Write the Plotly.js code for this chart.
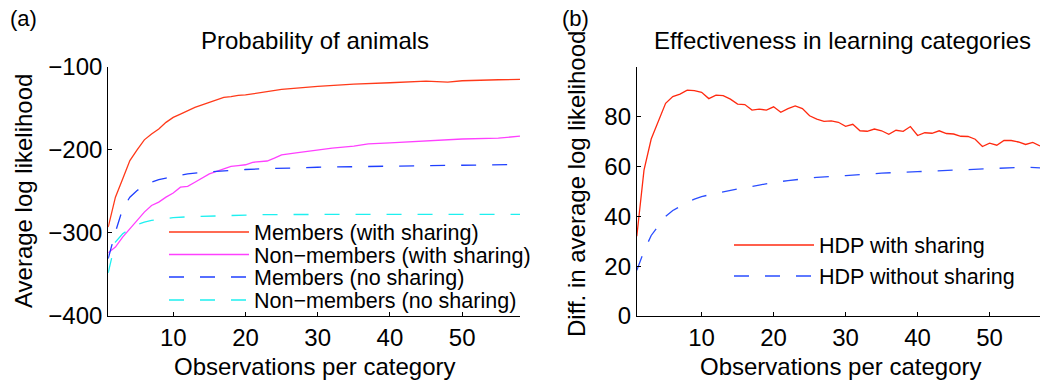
<!DOCTYPE html>
<html>
<head>
<meta charset="utf-8">
<script src="https://cdn.plot.ly/plotly-3.0.1.min.js"></script>
<style>html,body{margin:0;padding:0;background:#fff;}#chart{width:1040px;height:381px;}</style>
</head>
<body>
<div id="chart"></div>
<script>
// ---- Panel (a): Probability of animals ----
const redX = [1,2,3,4,5,6,7,8,9,10,11,12,13,14,15,16,17,18,19,20,21,22,25,30,35,40,45,48,50,55,58];
const redY = [-293,-257,-235,-213,-200,-188,-181,-175,-167,-161,-157,-153,-149,-146,-143,-140,-137,-136,-134.5,-134,-132.5,-131,-127.3,-123.7,-120.9,-119.3,-117.3,-118.5,-116.9,-115.7,-115.3];

const magX = [1,2,3,4,5,6,7,8,9,10,11,12,13,14,15,16,17,18,19,20,21,22,23,24,25,27,30,32,35,37,40,45,50,55,58];
const magY = [-324,-317,-305,-295,-285,-275,-267,-263,-257,-252,-245,-244,-239,-234,-229,-226,-223,-220,-219,-218,-215,-214,-213.5,-210,-206,-203.6,-200,-198,-195.6,-192.8,-191.6,-189,-187,-186,-183.5];

const bluX = [1,2,3,4,5,6,7,8,9,10,12,14,16,18,20,22,30,40,50,58];
const bluY = [-331,-299,-271,-257,-249,-243,-239,-236,-234,-232,-229,-227,-226,-224.5,-223.7,-223,-221,-219.7,-218.5,-217.7];

const cyaX = [1,2,3,4,5,6,7,8,10,12,15,20,22,30,40,58];
const cyaY = [-348,-311,-301,-295,-290,-287,-285,-284,-281.5,-280.7,-280,-278.3,-278,-277.8,-277.6,-277.6];

const namesA = ["Members (with sharing)", "Non\u2212members (with sharing)", "Members (no sharing)", "Non\u2212members (no sharing)"];
const ticksA_vals = [-400,-300,-200,-100];
const ticksA_text = ["\u2212400","\u2212300","\u2212200","\u2212100"];

// ---- Panel (b): Effectiveness in learning categories ----
const hdpX = [1,2,3,4,5,6,7,8,9,10,11,12,13,14,15,16,17,18,19,20,21,22,23,24,25,26,27,28,29,30,31,32,33,34,35,36,37,38,39,40,41,42,43,44,45,46,47,48,49,50,51,52,53,54,55,56,57];
const hdpY = [32,58.5,71,78.2,85.3,88,89,90.6,90.4,89.7,87.2,88.6,88.4,87,85,84.8,82.6,83,82.6,83.9,81.7,83.2,84.3,83.2,80.3,79,78.1,78.3,77.7,76.1,76.9,74.3,74.1,75,74.3,72.9,74.5,74.1,76,72.4,73.5,73.3,74.3,73.2,73,72.1,72,70.9,68,69.3,68.5,70.4,70.4,69.8,68.8,69.6,68.2];

const nosX = [1,2,3,4,5,6,7,8,9,10,12,14,16,18,20,22,24,26,30,35,40,45,50,55,57];
const nosY = [18.3,26,32.3,36.3,40,42.3,44,45.6,46.9,47.9,49.2,50.5,51.5,52.5,53.6,54.3,54.9,55.6,56.3,57.3,57.9,58.5,59.1,59.7,59.4];

const namesB = ["HDP with sharing", "HDP without sharing"];
const ticksB_vals = [0,20,40,60,80,100];
const ticksB_text = ["0","20","40","60","80",""];
const xTicks = [10,20,30,40,50];

const FONT = "Liberation Sans, Arial, Helvetica, sans-serif";
const RED = "#ff3a1a", MAG = "#ff40ff", BLU = "#1f3fff", CYA = "#1ef0f0";
const DASH = "15px,16px";
const W = 1040, H = 381;
const px = v => v / W;
const py = v => 1 - v / H;

const traces = [
  {x: redX, y: redY, name: namesA[0], xaxis: "x", yaxis: "y", mode: "lines", line: {color: RED, width: 1.3}, legend: "legend"},
  {x: magX, y: magY, name: namesA[1], xaxis: "x", yaxis: "y", mode: "lines", line: {color: MAG, width: 1.3}, legend: "legend2"},
  {x: bluX, y: bluY, name: namesA[2], xaxis: "x", yaxis: "y", mode: "lines", line: {color: BLU, width: 1.3, dash: DASH}, legend: "legend3"},
  {x: cyaX, y: cyaY, name: namesA[3], xaxis: "x", yaxis: "y", mode: "lines", line: {color: CYA, width: 1.3, dash: DASH}, legend: "legend4"},
  {x: hdpX, y: hdpY, name: namesB[0], xaxis: "x2", yaxis: "y2", mode: "lines", line: {color: "#ff2a10", width: 1.3}, legend: "legend5"},
  {x: nosX, y: nosY, name: namesB[1], xaxis: "x2", yaxis: "y2", mode: "lines", line: {color: "#2a4dff", width: 1.3, dash: DASH}, legend: "legend6"}
];

function leg(xPix, yPix) {
  return {x: px(xPix), y: py(yPix), xanchor: "left", yanchor: "middle", bgcolor: "rgba(0,0,0,0)", borderwidth: 0,
          font: {family: FONT, size: 21.5, color: "#000"}, itemwidth: 80};
}

const axisCommon = {showgrid: false, zeroline: false, showline: true, linecolor: "#000", linewidth: 1,
  ticks: "inside", ticklen: 4, tickcolor: "#000", tickwidth: 1, mirror: false,
  tickfont: {family: FONT, size: 24, color: "#000"}, fixedrange: true};

const yDom = [py(316), py(66.7)];

const layout = {
  width: W, height: H,
  margin: {l: 0, r: 0, t: 0, b: 0},
  paper_bgcolor: "#fff", plot_bgcolor: "#fff",
  font: {family: FONT, color: "#000"},
  showlegend: true,
  xaxis: Object.assign({}, axisCommon, {domain: [px(108.2), px(520)], range: [1, 58], tickvals: xTicks, anchor: "y"}),
  yaxis: Object.assign({}, axisCommon, {domain: yDom, range: [-400, -100], tickvals: ticksA_vals, ticktext: ticksA_text, anchor: "x"}),
  xaxis2: Object.assign({}, axisCommon, {domain: [px(636.8), 1], range: [1, 57], tickvals: xTicks, anchor: "y2"}),
  yaxis2: Object.assign({}, axisCommon, {domain: yDom, range: [0, 100], tickvals: ticksB_vals, ticktext: ticksB_text, anchor: "x2"}),
  legend: leg(164, 232),
  legend2: leg(164, 254.5),
  legend3: leg(164, 277),
  legend4: leg(164, 300),
  legend5: leg(729, 245),
  legend6: leg(729, 276),
  annotations: [
    {text: "(a)", x: px(8), y: py(19), xref: "paper", yref: "paper", xanchor: "left", yanchor: "middle", showarrow: false, font: {family: FONT, size: 22}},
    {text: "(b)", x: px(560), y: py(19), xref: "paper", yref: "paper", xanchor: "left", yanchor: "middle", showarrow: false, font: {family: FONT, size: 22}},
    {text: "Probability of animals", x: px(315), y: py(41), xref: "paper", yref: "paper", xanchor: "center", yanchor: "middle", showarrow: false, font: {family: FONT, size: 24}},
    {text: "Effectiveness in learning categories", x: px(842), y: py(41), xref: "paper", yref: "paper", xanchor: "center", yanchor: "middle", showarrow: false, font: {family: FONT, size: 24}},
    {text: "Observations per category", x: px(314), y: py(366), xref: "paper", yref: "paper", xanchor: "center", yanchor: "middle", showarrow: false, font: {family: FONT, size: 24}},
    {text: "Observations per category", x: px(840), y: py(366), xref: "paper", yref: "paper", xanchor: "center", yanchor: "middle", showarrow: false, font: {family: FONT, size: 24}},
    {text: "Average log likelihood", x: px(23), y: py(191), xref: "paper", yref: "paper", xanchor: "center", yanchor: "middle", textangle: -90, showarrow: false, font: {family: FONT, size: 24}},
    {text: "Diff. in average log likelihood", x: px(576), y: py(184), xref: "paper", yref: "paper", xanchor: "center", yanchor: "middle", textangle: -90, showarrow: false, font: {family: FONT, size: 24}}
  ]
};

Plotly.newPlot("chart", traces, layout, {displayModeBar: false, staticPlot: true});
</script>
</body>
</html>
